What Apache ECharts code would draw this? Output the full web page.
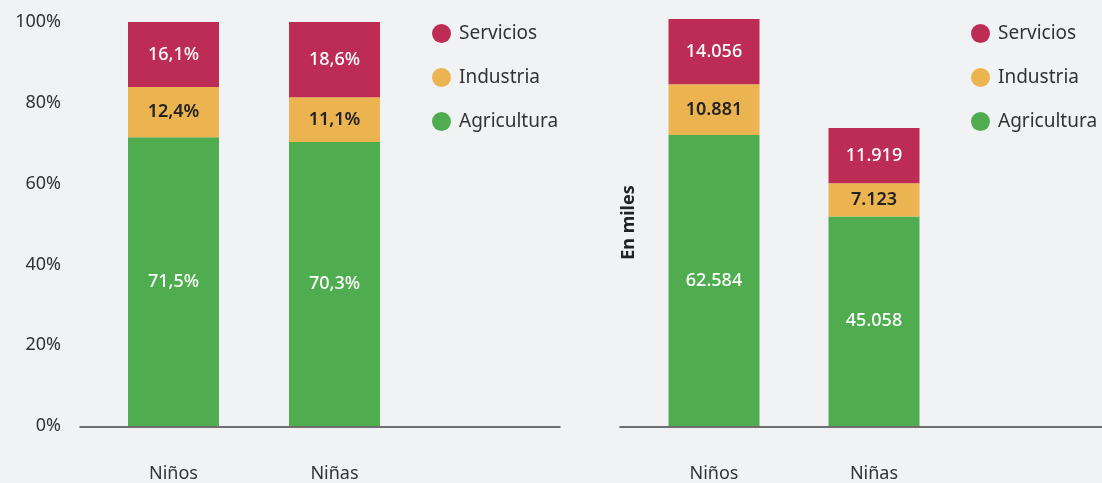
<!DOCTYPE html>
<html>
<head>
<meta charset="utf-8">
<script src="https://cdn.jsdelivr.net/npm/echarts@6/dist/echarts.min.js"></script>
<style>
  html, body { margin: 0; padding: 0; background: #f1f2f4; }
  #chart { width: 1102px; height: 483px; }
</style>
</head>
<body>
<div id="chart"></div>
<script>
// datos
var categorias = ['Niños', 'Niñas'];
var colores = ['#4fad4f', '#ecb451', '#bc2c55'];
// porcentajes (%)
var pctAgricultura = [71.5, 70.3];
var pctIndustria = [12.4, 11.1];
var pctServicios = [16.1, 18.6];
// en miles
var milAgricultura = [62584, 45058];
var milIndustria = [10881, 7123];
var milServicios = [14056, 11919];

var fuente = '"Noto Sans", "Open Sans", sans-serif';

function fmtPct(v) { return String(v).replace('.', ',') + '%'; }
function fmtMiles(v) { return String(v).replace(/\B(?=(\d{3})+(?!\d))/g, '.'); }

function serie(nombre, idx, datos, eje, fmt) {
  var oscuro = nombre === 'Industria';
  return {
    name: nombre,
    type: 'bar',
    stack: 'total' + eje,
    xAxisIndex: eje,
    yAxisIndex: eje,
    barWidth: 91,
    data: datos,
    itemStyle: { color: colores[idx] },
    label: {
      show: true,
      position: 'inside',
      fontFamily: fuente,
      fontSize: 18,
      fontWeight: oscuro ? 600 : 500,
      color: oscuro ? '#222' : '#fff',
      formatter: function (p) { return fmt(p.value); }
    },
    emphasis: { disabled: true }
  };
}

// eje de categorías (sin línea; la línea base la dibuja otro grid)
function ejeCat(idx) {
  return {
    type: 'category',
    gridIndex: idx,
    data: categorias,
    axisLine: { show: false },
    axisTick: { show: false },
    axisLabel: {
      margin: 39,
      fontFamily: fuente,
      fontSize: 18,
      color: '#333'
    }
  };
}

// grids vacíos que sólo pintan la línea base
function ejeLinea(idx) {
  return {
    type: 'value',
    gridIndex: idx,
    splitLine: { show: false },
    axisTick: { show: false },
    axisLabel: { show: false },
    axisLine: { show: true, onZero: false, lineStyle: { color: '#444', width: 1.5 } }
  };
}
function ejeOculto(idx) {
  return { type: 'value', gridIndex: idx, show: false };
}

function leyenda(left) {
  return {
    orient: 'vertical',
    left: left,
    top: 19,
    icon: 'circle',
    itemWidth: 19,
    itemHeight: 19,
    itemGap: 25,
    selectedMode: false,
    data: ['Servicios', 'Industria', 'Agricultura'],
    textStyle: { fontFamily: fuente, fontSize: 19, color: '#333', padding: [0, 0, 0, 3] }
  };
}

var chart = echarts.init(document.getElementById('chart'));
chart.setOption({
  backgroundColor: '#f1f2f4',
  animation: false,
  legend: [leyenda(427), leyenda(966)],
  grid: [
    { left: 93, top: 22, width: 322, height: 405 },
    { left: 634, top: 19, width: 320, height: 408 },
    { left: 80, top: 22, width: 480, height: 405 },
    { left: 620, top: 19, width: 482, height: 408 }
  ],
  xAxis: [ejeCat(0), ejeCat(1), ejeLinea(2), ejeLinea(3)],
  yAxis: [
    {
      type: 'value',
      gridIndex: 0,
      min: 0,
      max: 100,
      interval: 20,
      splitLine: { show: false },
      axisLine: { show: false },
      axisTick: { show: false },
      axisLabel: {
        margin: 32,
        fontFamily: fuente,
        fontSize: 18,
        color: '#333',
        formatter: function (v) { return v + '%'; }
      }
    },
    {
      type: 'value',
      gridIndex: 1,
      min: 0,
      max: 'dataMax',
      name: 'En miles',
      nameLocation: 'middle',
      nameGap: -4,
      nameRotate: 90,
      nameTextStyle: { fontFamily: fuente, fontSize: 18, fontWeight: 'bold', color: '#222' },
      splitLine: { show: false },
      axisLine: { show: false },
      axisTick: { show: false },
      axisLabel: { show: false }
    },
    ejeOculto(2),
    ejeOculto(3)
  ],
  series: [
    serie('Agricultura', 0, pctAgricultura, 0, fmtPct),
    serie('Industria', 1, pctIndustria, 0, fmtPct),
    serie('Servicios', 2, pctServicios, 0, fmtPct),
    serie('Agricultura', 0, milAgricultura, 1, fmtMiles),
    serie('Industria', 1, milIndustria, 1, fmtMiles),
    serie('Servicios', 2, milServicios, 1, fmtMiles)
  ]
});
</script>
</body>
</html>
